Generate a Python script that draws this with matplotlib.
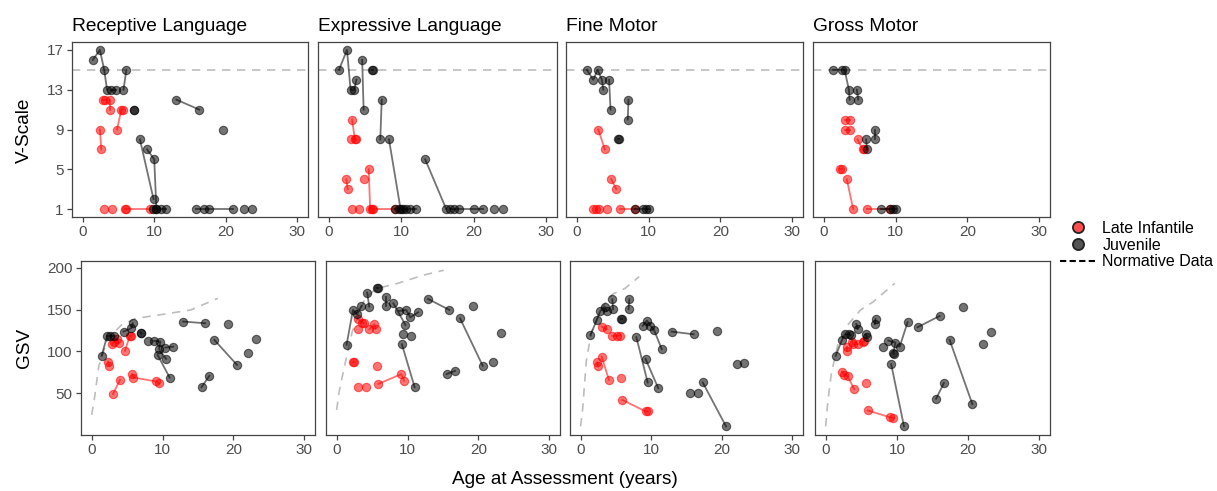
import matplotlib.pyplot as plt
from matplotlib.lines import Line2D

plt.rcParams['font.family'] = ['Liberation Sans', 'DejaVu Sans']

# --- data: each track = one child, list of (age, score) ---
panel_titles = ["Receptive Language", "Expressive Language", "Fine Motor", "Gross Motor"]
age_ticks = [0, 10, 20, 30]
vscale_ticks = [1, 5, 9, 13, 17]
gsv_ticks = [50, 100, 150, 200]
vscale_norm = 15

# V-Scale, receptive
rec_vs_juv = [[(1.4, 16), (2.4, 17), (3.0, 15), (3.4, 13)], [(4.0, 13), (4.7, 13)],
              [(5.7, 13), (6.1, 15)], [(7.1, 11), (7.2, 11)], [(13.1, 12), (16.3, 11)],
              [(19.6, 9)], [(8.0, 8), (9.9, 2)], [(9.0, 7), (10.0, 6), (10.3, 1)],
              [(9.8, 1), (10.3, 1), (10.9, 1), (11.7, 1)],
              [(15.8, 1), (17.0, 1), (17.7, 1), (21.0, 1)], [(22.6, 1)], [(23.7, 1)]]
rec_vs_li = [[(2.9, 12), (3.1, 12)], [(3.8, 12), (3.8, 11)], [(4.8, 9), (5.4, 11), (5.6, 11)],
             [(2.4, 9), (2.6, 7)], [(3.0, 1)], [(4.1, 1)], [(5.9, 1), (6.1, 1), (9.4, 1)]]

# V-Scale, expressive
exp_vs_juv = [[(1.4, 15), (2.5, 17), (3.0, 13), (3.5, 13), (3.8, 14)], [(4.6, 16), (4.8, 11)],
              [(5.9, 15), (6.1, 15)], [(7.3, 12), (7.1, 8)], [(8.3, 8), (9.9, 1)],
              [(13.3, 6), (16.2, 1)],
              [(9.2, 1), (9.7, 1), (10.2, 1), (10.7, 1), (11.2, 1), (12.0, 1)],
              [(16.7, 1), (17.3, 1), (18.0, 1), (20.0, 1), (21.3, 1)], [(22.8, 1)], [(24.0, 1)]]
exp_vs_li = [[(3.2, 10), (3.6, 8), (3.8, 8)], [(3.0, 8)], [(2.4, 4), (2.6, 3)], [(4.8, 4)],
             [(5.5, 5), (5.7, 1)], [(3.2, 1)], [(4.2, 1)], [(5.9, 1), (6.1, 1), (9.2, 1)]]

# V-Scale, fine motor
fm_vs_juv = [[(1.4, 15), (2.3, 14), (2.9, 15), (3.5, 14), (3.7, 13)], [(4.5, 14), (4.7, 11)],
             [(7.2, 12), (7.1, 10)], [(5.7, 8), (5.9, 8)],
             [(8.1, 1), (9.2, 1), (9.6, 1), (10.0, 1)]]
fm_vs_li = [[(3.0, 9), (3.9, 7)], [(4.8, 4), (5.5, 3)], [(2.2, 1)], [(2.7, 1)], [(3.1, 1)],
            [(4.2, 1)], [(6.0, 1), (8.1, 1)]]

# V-Scale, gross motor
gm_vs_juv = [[(1.3, 15), (2.5, 15), (2.9, 15), (3.5, 13), (3.6, 12)], [(4.6, 13), (4.8, 12)],
             [(5.9, 8), (6.0, 7)], [(7.1, 9), (7.1, 8)],
             [(8.0, 1), (9.2, 1), (9.7, 1), (10.0, 1)]]
gm_vs_li = [[(2.9, 10), (3.7, 10)], [(2.9, 9), (3.7, 9)], [(4.7, 8), (5.4, 7), (5.6, 7)],
            [(2.3, 5), (2.5, 5)], [(3.2, 4), (4.1, 1)], [(6.0, 1), (9.2, 1)]]

# GSV, receptive
rec_gsv_juv = [[(1.4, 94.6), (2.2, 118.5), (2.6, 118.5), (3.2, 118.5)],
               [(4.5, 123.6), (5.6, 127.6), (5.8, 133.6)], [(6.9, 122.4), (7.0, 121.5)],
               [(8.0, 112.5)], [(8.8, 112.5), (9.7, 111.7), (9.5, 103), (10.5, 91)],
               [(10.4, 104.5), (11.5, 105.7)], [(9.3, 95.8), (11.0, 68.7)],
               [(12.9, 135.6), (16.0, 133.6)], [(19.3, 132.4)], [(17.3, 113.7), (20.5, 83.8)],
               [(22.1, 97.8)], [(23.2, 114.9)], [(15.5, 57.2), (16.6, 70.7)]]
rec_gsv_li = [[(2.9, 108.5), (3.2, 111.7), (3.6, 114.9), (3.8, 109.7)],
              [(4.7, 100.6), (5.4, 118.9), (5.6, 118.5)], [(2.3, 87.8), (2.5, 83)],
              [(3.0, 48.8), (4.0, 65.9)], [(5.7, 72.7), (5.9, 68.7), (9.1, 64), (9.5, 61.6)]]
rec_norm_age = [0, 0.4, 1.0, 2.2, 4.2, 6.3, 9.5, 14, 17.8]
rec_norm_gsv = [24, 44, 82, 113.7, 131.6, 139.5, 143.5, 149.5, 163.4]

# GSV, expressive
exp_gsv_juv = [[(1.4, 107.7), (2.3, 149.5), (2.9, 144.3), (3.5, 154.3)],
               [(4.3, 170.2), (4.6, 153.5)], [(5.7, 175.3), (5.9, 175.3)],
               [(6.9, 165.4), (6.9, 154.3)], [(8.0, 157.4), (9.7, 131.6)],
               [(8.8, 148.3), (9.8, 149.5), (10.4, 140.7), (11.5, 146.7)],
               [(9.4, 120.4)], [(10.5, 118.9)], [(9.2, 108.5), (11.0, 57.2)],
               [(12.9, 162.6), (15.9, 149.5)], [(19.3, 154.3)], [(17.4, 139.5), (20.6, 82.7)],
               [(23.2, 121.6)], [(22.1, 87.8)], [(15.5, 72.7), (16.7, 76.7)]]
exp_gsv_li = [[(3.0, 138.7), (3.6, 134.4), (3.8, 133.6)], [(3.0, 126.4)],
              [(4.6, 126.4), (5.3, 132.4), (5.5, 126.8)], [(2.3, 87.8), (2.5, 87.8)],
              [(5.7, 82.7)], [(3.0, 57.2)], [(4.1, 57.2)], [(5.9, 61.2), (9.1, 72.7), (9.5, 65)]]
exp_norm_age = [0, 0.36, 1.0, 2.2, 4.0, 5.6, 8.5, 12.2, 15.1]
exp_norm_gsv = [30, 52, 78, 123.6, 163.4, 175, 181, 191, 197]

# GSV, fine motor
fm_gsv_juv = [[(1.4, 119.6), (2.3, 137.5), (2.8, 148.3), (3.4, 153.5), (3.7, 148.3)],
              [(4.5, 162.2), (4.6, 150.3)], [(5.7, 138.3), (5.9, 138.3)],
              [(6.9, 162.2), (6.8, 150.3)],
              [(8.8, 130.4), (9.4, 136.8), (9.9, 130.4), (10.4, 125.6), (11.5, 102.5)],
              [(7.9, 116.9), (9.5, 62.8)], [(9.2, 91), (11.0, 56)],
              [(12.9, 123.6), (16.0, 120.4)], [(19.3, 124.4)], [(22.1, 84.6)], [(23.2, 86.6)],
              [(17.3, 62.8), (20.6, 10.3)], [(15.5, 50)], [(16.6, 50)]]
fm_gsv_li = [[(3.0, 129.6), (3.7, 126.4)], [(4.5, 118.5), (5.1, 118.5), (5.6, 118.9)],
             [(3.0, 93.8), (4.0, 66)], [(2.3, 87), (2.5, 81.9)], [(5.7, 68.7)],
             [(5.9, 42), (9.2, 28.2), (9.5, 28.2)]]
fm_norm_age = [0, 0.3, 0.8, 1.5, 2.9, 4.5, 6.3, 8.3]
fm_norm_gsv = [10.3, 32, 88, 121.6, 151.5, 168.2, 175.3, 189.3]

# GSV, gross motor
gm_gsv_juv = [[(1.4, 94.6), (2.3, 113.7), (2.7, 120.4), (3.3, 120.4), (3.5, 119.5)],
              [(4.3, 132.8), (4.5, 126.8)], [(5.6, 120.4), (5.8, 117.7)],
              [(7.0, 138.7), (6.9, 132.4)], [(8.0, 105.7)],
              [(8.8, 112.9), (9.8, 110.5), (9.5, 97.8), (9.6, 96.8)],
              [(10.4, 105.7), (11.5, 134.8)], [(9.2, 84.6), (11.0, 10.3)],
              [(12.9, 128.8), (16.0, 142.3)], [(19.3, 153.5)], [(17.4, 113.7), (20.6, 36.9)],
              [(22.1, 108.5)], [(23.2, 123.6)], [(15.5, 43.3), (16.6, 62)]]
gm_gsv_li = [[(3.0, 105.7), (3.0, 100.6)], [(3.7, 111.7), (3.8, 108.5), (4.5, 108.5)],
             [(5.4, 112.5), (5.3, 111)],
             [(2.3, 75.9), (2.6, 71.9), (3.1, 70), (4.0, 54.8)], [(5.7, 62)],
             [(5.9, 29.4), (9.1, 21), (9.5, 20.2)]]
gm_norm_age = [0, 0.3, 0.8, 1.7, 3.1, 4.9, 6.7, 9.7]
gm_norm_gsv = [10.3, 40, 74, 107.7, 131.6, 149.5, 159.4, 181.3]

top_data = [(rec_vs_juv, rec_vs_li), (exp_vs_juv, exp_vs_li),
            (fm_vs_juv, fm_vs_li), (gm_vs_juv, gm_vs_li)]
bot_data = [(rec_gsv_juv, rec_gsv_li, rec_norm_age, rec_norm_gsv),
            (exp_gsv_juv, exp_gsv_li, exp_norm_age, exp_norm_gsv),
            (fm_gsv_juv, fm_gsv_li, fm_norm_age, fm_norm_gsv),
            (gm_gsv_juv, gm_gsv_li, gm_norm_age, gm_norm_gsv)]

W, H = 1217, 491
fig = plt.figure(figsize=(W / 100, H / 100), dpi=100)

# panel boxes in pixels (left, right)
top_x = [(72, 308), (318, 557), (566, 803), (813, 1050)]
bot_x = [(81, 315), (326, 560), (570, 803), (815, 1050)]


def px_axes(x0, x1, y0, y1):
    return fig.add_axes([x0 / W, 1 - y1 / H, (x1 - x0) / W, (y1 - y0) / H])


def draw_tracks(ax, tracks, color):
    for tr in tracks:
        xs = [p[0] for p in tr]
        ys = [p[1] for p in tr]
        ax.plot(xs, ys, '-o', color=color, alpha=0.55, lw=1.3, ms=6,
                mec=color, mew=0.8, zorder=3)


def style(ax):
    for s in ax.spines.values():
        s.set_color('#444444')
        s.set_linewidth(0.9)
    ax.tick_params(colors='#444444', labelcolor='#4D4D4D', labelsize=11, length=3.5,
                   width=0.9, pad=2.5)
    ax.set_xlim(-1.5, 31.5)
    ax.set_xticks(age_ticks)


for i in range(4):
    ax = px_axes(top_x[i][0], top_x[i][1], 42, 217)
    juv, li = top_data[i]
    ax.axhline(vscale_norm, color='#BDBDBD', ls=(0, (5, 4)), lw=1.2, zorder=1)
    draw_tracks(ax, li, 'red')
    draw_tracks(ax, juv, 'black')
    style(ax)
    ax.set_ylim(0.2, 17.8)
    ax.set_yticks(vscale_ticks)
    if i > 0:
        ax.set_yticklabels([])
        ax.tick_params(axis='y', length=0)
    ax.set_title(panel_titles[i], loc='left', fontsize=13.8, pad=8, color='black')

for i in range(4):
    ax = px_axes(bot_x[i][0], bot_x[i][1], 261, 435)
    juv, li, nx, ny = bot_data[i]
    ax.plot(nx, ny, color='#BDBDBD', ls=(0, (5, 4)), lw=1.2, zorder=1)
    draw_tracks(ax, li, 'red')
    draw_tracks(ax, juv, 'black')
    style(ax)
    ax.set_ylim(0, 208)
    ax.set_yticks(gsv_ticks)
    if i > 0:
        ax.set_yticklabels([])
        ax.tick_params(axis='y', length=0)

fig.text(24 / W, 1 - 130 / H, "V-Scale", rotation=90, ha='center', va='center', fontsize=13.7)
fig.text(24 / W, 1 - 348 / H, "GSV", rotation=90, ha='center', va='center', fontsize=13.7)
fig.text(565 / W, 1 - 480 / H, "Age at Assessment (years)", ha='center', va='center', fontsize=13.7)

handles = [
    Line2D([], [], ls='none', marker='o', ms=8, mfc=(1, 0.3, 0.3), mec='#222222', mew=1.3),
    Line2D([], [], ls='none', marker='o', ms=8, mfc='#555555', mec='#222222', mew=1.3),
    Line2D([], [], color='black', ls=(0, (3, 1.6)), lw=1.5),
]
fig.legend(handles, ["Late Infantile", "Juvenile", "Normative Data"],
           loc='upper left', bbox_to_anchor=(1060 / W, 1 - 221 / H), frameon=False,
           fontsize=11.5, handlelength=2.3, handletextpad=0.35, labelspacing=0.1,
           borderaxespad=0, borderpad=0)

fig.savefig("out.png", dpi=100)
